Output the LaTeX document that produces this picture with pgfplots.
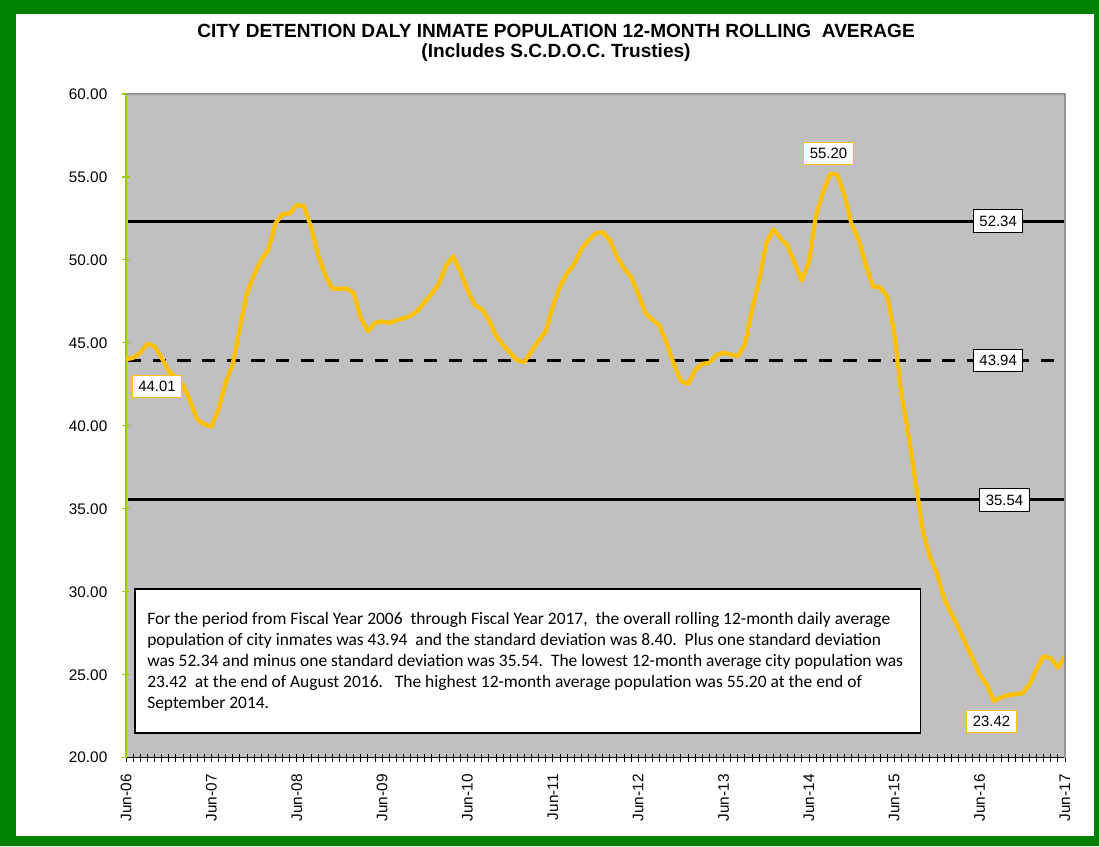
\documentclass[border=0pt]{standalone}
\usepackage{pgfplots}
\pgfplotsset{compat=1.18}
\usepackage{pgfplotstable}
\usepackage{fontspec}
\setmainfont{Liberation Sans}
\newfontfamily\carlito{Carlito}
\definecolor{framegreen}{RGB}{0,128,0}
\definecolor{plotgray}{RGB}{192,192,192}
\definecolor{lineorange}{RGB}{255,192,0}
\definecolor{ygreen}{RGB}{153,204,0}
\definecolor{bordergray}{RGB}{150,150,150}

\pgfplotstableread{
m v
0 44.01
1 44.10
2 44.40
3 44.95
4 44.80
5 44.10
6 43.30
7 42.90
8 42.50
9 41.50
10 40.40
11 40.10
12 39.95
13 41.00
14 42.60
15 43.70
16 45.90
17 48.00
18 49.10
19 50.00
20 50.60
21 52.20
22 52.75
23 52.80
24 53.30
25 53.25
26 52.00
27 50.30
28 49.10
29 48.27
30 48.26
31 48.28
32 48.00
33 46.50
34 45.70
35 46.20
36 46.30
37 46.20
38 46.36
39 46.48
40 46.63
41 46.95
42 47.47
43 47.98
44 48.57
45 49.66
46 50.22
47 49.30
48 48.20
49 47.30
50 47.03
51 46.40
52 45.45
53 44.88
54 44.40
55 43.94
56 43.84
57 44.50
58 45.13
59 45.70
60 47.20
61 48.40
62 49.20
63 49.75
64 50.65
65 51.17
66 51.60
67 51.67
68 51.20
69 50.20
70 49.50
71 48.97
72 47.95
73 46.80
74 46.40
75 46.05
76 44.98
77 43.73
78 42.70
79 42.52
80 43.35
81 43.74
82 43.80
83 44.27
84 44.41
85 44.30
86 44.20
87 44.90
88 47.00
89 48.79
90 51.00
91 51.85
92 51.30
93 50.85
94 49.80
95 48.75
96 49.90
97 52.70
98 54.10
99 55.20
100 55.13
101 53.90
102 52.15
103 51.20
104 49.70
105 48.40
106 48.35
107 47.80
108 45.58
109 41.90
110 39.45
111 36.60
112 33.70
113 32.10
114 31.10
115 29.60
116 28.70
117 27.85
118 26.90
119 26.00
120 25.00
121 24.40
122 23.42
123 23.62
124 23.77
125 23.82
126 23.88
127 24.40
128 25.35
129 26.12
130 25.99
131 25.43
132 26.10
}\datatable

\begin{document}
\begin{tikzpicture}
\begin{scope}[x=0.75pt,y=-0.75pt]
\fill[framegreen] (0,0) rectangle (1099,846);
\fill[white] (16,14) rectangle (1094,836);
\node[font=\bfseries\fontsize{14.3}{16}\selectfont, anchor=base, inner sep=0pt] at (556,37) {CITY DETENTION DALY INMATE POPULATION 12-MONTH ROLLING\ \ AVERAGE};
\node[font=\bfseries\fontsize{14.3}{16}\selectfont, anchor=base, inner sep=0pt] at (556,57) {(Includes S.C.D.O.C. Trusties)};
\end{scope}
\begin{axis}[at={(94.5pt,-568.275pt)}, anchor=south west, scale only axis,
  width=704.25pt, height=497.775pt,
  xmin=0, xmax=132, ymin=20, ymax=60,
  axis background/.style={fill=plotgray},
  axis x line=bottom, axis y line=left,
  x axis line style={-, black, line width=0.75pt},
  y axis line style={-, ygreen, line width=1pt},
  xtick={0,1,...,132},
  xticklabels={Jun-06,,,,,,,,,,,,Jun-07,,,,,,,,,,,,Jun-08,,,,,,,,,,,,Jun-09,,,,,,,,,,,,Jun-10,,,,,,,,,,,,Jun-11,,,,,,,,,,,,Jun-12,,,,,,,,,,,,Jun-13,,,,,,,,,,,,Jun-14,,,,,,,,,,,,Jun-15,,,,,,,,,,,,Jun-16,,,,,,,,,,,,Jun-17},
  tick align=center,
  major tick length=6pt,
  x tick style={black, line width=0.6pt},
  y tick style={ygreen, line width=0.8pt},
  ytick={20,25,...,60},
  yticklabel style={xshift=-7.5pt, /pgf/number format/.cd, fixed, fixed zerofill, precision=2},
  /pgf/number format/assume math mode=true,
  tick label style={font=\fontsize{11.5}{13}\selectfont},
  xticklabel style={rotate=90, anchor=east, xshift=-6pt},
  clip=false,
]
\addplot[black, line width=2.25pt] coordinates {(0.3,52.34) (132,52.34)};
\addplot[black, line width=2.25pt, dash pattern=on 10pt off 8.5pt] coordinates {(0.3,43.94) (132,43.94)};
\addplot[black, line width=2.25pt] coordinates {(0.3,35.54) (132,35.54)};
\addplot[lineorange, line width=3.2pt, line join=round] table[x=m, y=v] {\datatable};
\draw[bordergray, line width=0.8pt] (axis cs:0,60) -- (axis cs:132,60) -- (axis cs:132,20);
\node[draw=black, fill=white, line width=0.6pt, font=\fontsize{11.2}{13}\selectfont, inner xsep=4.5pt, minimum height=17pt] at (axis cs:122.6,52.34) {52.34};
\node[draw=black, fill=white, line width=0.6pt, font=\fontsize{11.2}{13}\selectfont, inner xsep=4.5pt, minimum height=17pt] at (axis cs:122.6,43.94) {43.94};
\node[draw=black, fill=white, line width=0.6pt, font=\fontsize{11.2}{13}\selectfont, inner xsep=4.5pt, minimum height=17pt] at (axis cs:123.5,35.54) {35.54};
\node[draw=lineorange, fill=white, line width=0.6pt, font=\fontsize{11.2}{13}\selectfont, inner xsep=4.5pt, minimum height=17pt] at (axis cs:4.36,42.37) {44.01};
\node[draw=lineorange, fill=white, line width=0.6pt, font=\fontsize{11.2}{13}\selectfont, inner xsep=4.5pt, minimum height=17pt] at (axis cs:98.76,56.43) {55.20};
\node[draw=lineorange, fill=white, line width=0.6pt, font=\fontsize{11.2}{13}\selectfont, inner xsep=4.5pt, minimum height=17pt] at (axis cs:121.66,22.19) {23.42};
\end{axis}
\begin{scope}[x=0.75pt,y=-0.75pt]
\draw[black, line width=1pt, fill=white] (135,589) rectangle (920.7,733);
\begin{scope}[every node/.style={anchor=base west, inner sep=0pt, font=\carlito\fontsize{13.1}{16}\selectfont}]
\node at (147,624) {For the period from Fiscal Year 2006\ \ through Fiscal Year 2017,\ \ the overall rolling 12-month daily average};
\node at (147,645.2) {population of city inmates was 43.94\ \ and the standard deviation was 8.40.\ \ Plus one standard deviation};
\node at (147,666.4) {was 52.34 and minus one standard deviation was 35.54.\ \ The lowest 12-month average city population was};
\node at (147,687.6) {23.42\ \ at the end of August 2016.\ \ \ The highest 12-month average population was 55.20 at the end of};
\node at (147,708.8) {September 2014.};
\end{scope}
\end{scope}
\end{tikzpicture}
\end{document}
